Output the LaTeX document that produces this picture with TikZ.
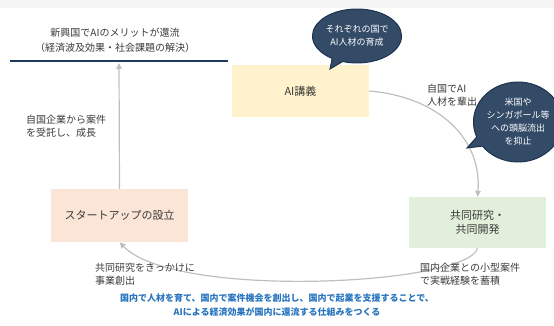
\documentclass[tikz,border=0pt]{standalone}
\usepackage{fontspec}
\setmainfont{Noto Sans CJK JP}
\usetikzlibrary{arrows.meta,shapes.callouts,shapes.geometric}
\definecolor{boxyellow}{HTML}{FFF2CC}
\definecolor{boxgreen}{HTML}{E2EFDA}
\definecolor{boxpeach}{HTML}{FBE5D6}
\definecolor{navy}{HTML}{1F3A5F}
\definecolor{bubblefill}{HTML}{344B68}
\definecolor{bubbleline}{HTML}{1B3350}
\definecolor{conngray}{HTML}{BFBFBF}
\definecolor{textgray}{HTML}{3A3A3A}
\definecolor{msgblue}{HTML}{2874BE}
\begin{document}
\begin{tikzpicture}[x=1pt,y=-1pt,
  stagebox/.style={minimum width=137pt,minimum height=52pt,inner sep=0pt,align=center,
    font=\fontsize{11}{14.5}\selectfont,text=textgray},
  conn/.style={draw=conngray,line width=1.2pt,-{Triangle[length=6pt,width=5.5pt]}},
  lbl/.style={inner sep=0pt,align=left,font=\fontsize{10}{13.5}\selectfont,text=textgray},
  bubble/.style={ellipse callout,fill=bubblefill,draw=bubbleline,line width=1pt,text=white,
    align=center,inner sep=0pt,font=\fontsize{9}{13}\selectfont}]
\path[use as bounding box] (0,0) rectangle (554,325);
\fill[black!4] (0,0) rectangle (554,8);
% title
\node[inner sep=0pt,align=center,font=\fontsize{10}{15}\selectfont,text=textgray] (title) at (115,40)
  {新興国でAIのメリットが還流\\（経済波及効果・社会課題の解決）};
\coordinate (lineL) at (10,61);
\coordinate (lineR) at (228,61);
\draw[navy,line width=1.6pt] (lineL) -- (lineR);
% boxes
\node[stagebox,fill=boxyellow] (ai) at (300.5,91) {AI講義};
\node[stagebox,fill=boxgreen,minimum height=51pt] (joint) at (477.5,222.5) {共同研究・\\ 共同開発};
\node[stagebox,fill=boxpeach,minimum height=53pt] (start) at (119.5,215.5) {スタートアップの設立};
% connectors
\coordinate (uptip) at (119,63);
\draw[conn] (start.north) -- (uptip);
\draw[conn] (ai.east) .. controls (440,97) and (482,140) .. (joint.north);
\draw[conn] (joint.south) .. controls (468,285) and (175,300) .. (start.south);
% labels
\node[lbl,anchor=west] (l1) at (26,126) {自国企業から案件\\を受託し、成長};
\node[lbl,anchor=west] (l2) at (427,95) {自国でAI\\人材を輩出};
\node[lbl,anchor=west] (l3) at (95,274) {共同研究をきっかけに\\事業創出};
\node[lbl,anchor=west] (l4) at (420,274) {国内企業との小型案件\\で実戦経験を蓄積};
% bubbles
\node[bubble,minimum width=76pt,minimum height=54pt,callout absolute pointer={(330,69)}] (b1) at (357,36)
  {それぞれの国で\\AI人材の育成};
\node[bubble,minimum width=72pt,minimum height=80pt,callout absolute pointer={(467,148)}] (b2) at (518,122)
  {米国や\\シンガポール等\\への頭脳流出\\を抑止};
% bottom message
\node[inner sep=0pt,align=center,font=\bfseries\fontsize{9}{14}\selectfont,text=msgblue] (msg) at (277,305)
  {国内で人材を育て、国内で案件機会を創出し、国内で起業を支援することで、\\AIによる経済効果が国内に還流する仕組みをつくる};
\end{tikzpicture}
\end{document}
